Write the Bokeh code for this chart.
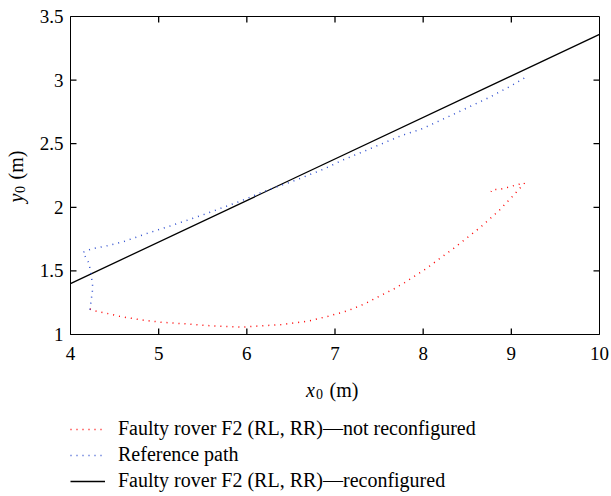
import math
from bokeh.plotting import figure
from bokeh.layouts import column, row
from bokeh.models import (Range1d, LinearAxis, FixedTicker, Legend, LegendItem, Label)
from bokeh.embed import file_html
from bokeh.resources import INLINE

# ---------------- data ----------------
x_ticks = [4, 5, 6, 7, 8, 9, 10]
x_tick_labels = ["4", "5", "6", "7", "8", "9", "10"]
y_ticks = [1, 1.5, 2, 2.5, 3, 3.5]
y_tick_labels = ["1", "1.5", "2", "2.5", "3", "3.5"]

# Faulty rover F2 (RL, RR) - not reconfigured
red_x = [4.22, 4.26, 4.41, 4.57, 4.80, 5.03, 5.30, 5.62, 5.94, 6.39, 6.69, 6.92,
         7.15, 7.35, 7.48, 7.67, 7.79, 8.03, 8.35, 8.65, 8.86, 9.01, 9.15,
         9.08, 9.00, 8.93, 8.85, 8.78, 8.77]
red_y = [1.20, 1.188, 1.167, 1.141, 1.115, 1.096, 1.084, 1.067, 1.058, 1.078, 1.104, 1.143,
         1.188, 1.245, 1.293, 1.359, 1.408, 1.516, 1.68, 1.843, 1.974, 2.084, 2.19,
         2.18, 2.165, 2.15, 2.14, 2.14, 2.123]

# Reference path
blue_x = [4.22, 4.23, 4.25, 4.25, 4.21, 4.14, 4.24, 4.40, 4.60, 4.87, 5.16, 5.50,
          5.94, 6.17, 6.37, 6.58, 6.87, 7.09, 7.30, 7.75, 7.99, 8.35, 8.75, 9.01, 9.19]
blue_y = [1.196, 1.245, 1.35, 1.40, 1.56, 1.646, 1.673, 1.695, 1.73, 1.795, 1.86, 1.94,
          2.052, 2.117, 2.168, 2.22, 2.30, 2.372, 2.432, 2.563, 2.618, 2.733, 2.864, 2.96, 3.034]

# Faulty rover F2 (RL, RR) - reconfigured
black_x = [4.0, 10.0]
black_y = [1.40, 3.36]

legend_labels = ["Faulty rover F2 (RL, RR)\u2014not reconfigured",
                 "Reference path",
                 "Faulty rover F2 (RL, RR)\u2014reconfigured"]

FONT = "Liberation Serif"
X_MIN, X_MAX = 4, 10
Y_MIN, Y_MAX = 1, 3.5

RED = dict(line_color="#ff0000", line_width=1.5, line_dash="1 5")
BLUE = dict(line_color="#2f4fcf", line_width=1.5, line_dash="1 5")
BLACK = dict(line_color="black", line_width=1.3)

# ---------------- main plot ----------------
LEFT_W = 36            # width of the strip holding the y label
MAIN_W = 611 - LEFT_W
TOP_H = 370
B_TOP = 16
FRAME_W, FRAME_H = 530, 318
B_BOT = TOP_H - B_TOP - FRAME_H

p = figure(width=MAIN_W, height=TOP_H, output_backend="svg", toolbar_location=None,
           x_range=Range1d(X_MIN, X_MAX), y_range=Range1d(Y_MIN, Y_MAX),
           x_axis_type=None, y_axis_type=None,
           min_border_left=33, min_border_right=12, min_border_top=B_TOP,
           min_border_bottom=B_BOT)
p.background_fill_color = "white"
p.border_fill_color = "white"
p.outline_line_color = "black"
p.outline_line_width = 1
p.xgrid.visible = False
p.ygrid.visible = False


def make_axis(ticks, labels, standoff):
    ax = LinearAxis(ticker=FixedTicker(ticks=ticks))
    ax.major_label_overrides = {t: l for t, l in zip(ticks, labels)}
    ax.major_tick_in = 0
    ax.major_tick_out = 0
    ax.minor_tick_in = 0
    ax.minor_tick_out = 0
    ax.axis_line_color = "black"
    ax.major_label_text_font = FONT
    ax.major_label_text_font_size = "19px"
    ax.major_label_text_color = "black"
    ax.major_label_standoff = standoff
    return ax


p.add_layout(make_axis(x_ticks, x_tick_labels, 12), "below")
p.add_layout(make_axis(y_ticks, y_tick_labels, 7), "left")

# inward tick marks on all four sides: dash markers centred on the frame edges
# (the half outside the frame is clipped, leaving a ~6 px inward tick)
inner_x = x_ticks[1:-1]
inner_y = y_ticks[1:-1]
mk_x = inner_x + inner_x + [X_MIN] * len(inner_y) + [X_MAX] * len(inner_y)
mk_y = [Y_MIN] * len(inner_x) + [Y_MAX] * len(inner_x) + inner_y + inner_y
mk_a = [math.pi / 2] * (2 * len(inner_x)) + [0.0] * (2 * len(inner_y))
p.scatter(x=mk_x, y=mk_y, angle=mk_a, marker="dash", size=12,
          line_color="black", line_width=1.3, fill_color=None)

p.line(red_x, red_y, **RED)
p.line(black_x, black_y, **BLACK)
p.line(blue_x, blue_y, **BLUE)

# ---------------- y label strip ----------------
# frame of the strip is aligned with the main plot's frame (rows align borders)
yl = figure(width=LEFT_W, height=TOP_H, output_backend="svg", toolbar_location=None,
            x_range=Range1d(0, 1), y_range=Range1d(0, 1),
            x_axis_type=None, y_axis_type=None,
            min_border_left=0, min_border_right=0,
            min_border_top=B_TOP, min_border_bottom=B_BOT)
yl.outline_line_color = None
yl.xgrid.visible = False
yl.ygrid.visible = False
yl.border_fill_color = "white"
yl.background_fill_color = "white"


def lab(fig, x, y, text, size, style="normal", angle=0.0):
    fig.add_layout(Label(x=x, y=y, x_units="screen", y_units="screen",
                         text=text, text_font=FONT, text_font_size=size,
                         text_font_style=style, text_align="left",
                         text_baseline="alphabetic", angle=angle,
                         text_color="black"))


FB = B_TOP + FRAME_H  # canvas y of frame bottom
# y-axis label: y0 (m), rotated
lab(yl, 15, FB - 202, "y", "20px", "italic", math.pi / 2)
lab(yl, 19, FB - 192.5, "0", "14px", "normal", math.pi / 2)
lab(yl, 15, FB - 179, "(m)", "20px", "normal", math.pi / 2)

# ---------------- bottom strip: x label + legend ----------------
BOT_H = 496 - TOP_H
lg = figure(width=611, height=BOT_H, output_backend="svg", toolbar_location=None,
            x_range=Range1d(0, 1), y_range=Range1d(0, 1),
            x_axis_type=None, y_axis_type=None, min_border=0)
lg.outline_line_color = None
lg.xgrid.visible = False
lg.ygrid.visible = False
lg.border_fill_color = "white"

# the series again, outside this strip's ranges: only their legend glyphs show
lr_red = lg.line(red_x, red_y, **RED)
lr_blue = lg.line(blue_x, blue_y, **BLUE)
lr_black = lg.line(black_x, black_y, **BLACK)

# x-axis label: x0 (m)
lab(lg, 305.5, 496 - 389, "x", "20px", "italic")
lab(lg, 315.5, 496 - 393, "0", "14px")
lab(lg, 329, 496 - 389, "(m)", "20px")

legend = Legend(items=[LegendItem(label=legend_labels[0], renderers=[lr_red]),
                       LegendItem(label=legend_labels[1], renderers=[lr_blue]),
                       LegendItem(label=legend_labels[2], renderers=[lr_black])],
                location=(70, 4), orientation="vertical",
                border_line_color=None, background_fill_alpha=0,
                padding=0, margin=0, spacing=3,
                glyph_width=35, glyph_height=20, label_height=20,
                label_standoff=13,
                label_text_font=FONT, label_text_font_size="20px",
                label_text_color="black")
lg.add_layout(legend, "center")

layout = column(row(yl, p, spacing=0), lg, spacing=0)
open("out.html", "w").write(file_html(layout, INLINE))
